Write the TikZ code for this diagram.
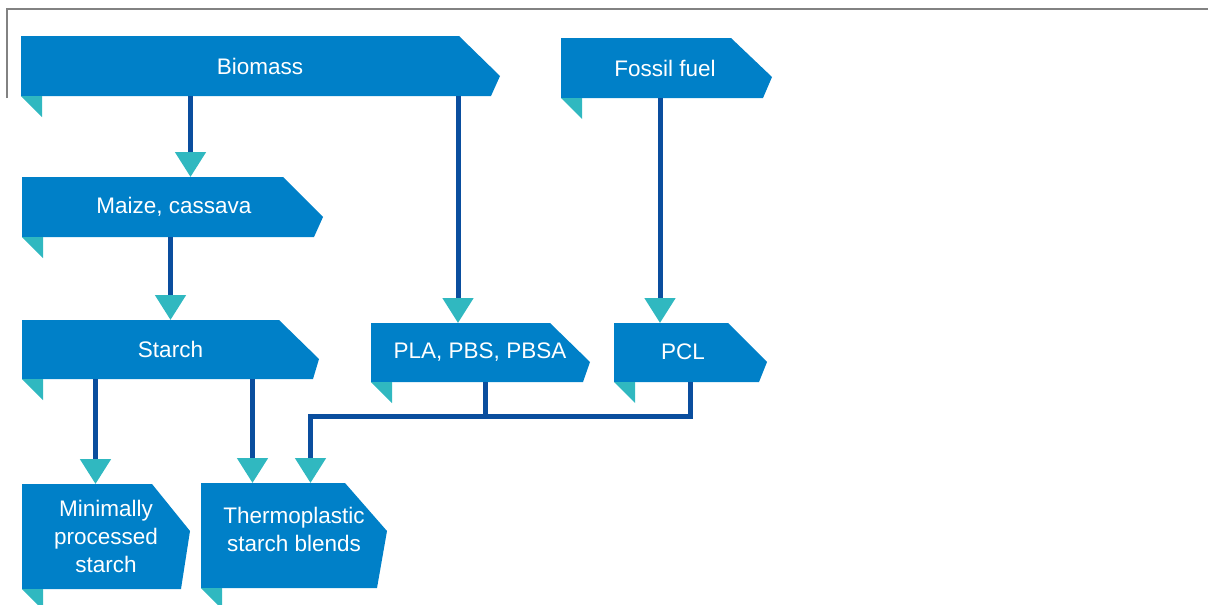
\documentclass[tikz,border=0pt]{standalone}
\usepackage{fontspec}
\setmainfont{Liberation Sans}
\usetikzlibrary{arrows.meta}
\definecolor{boxblue}{RGB}{0,128,200}
\definecolor{flagteal}{RGB}{48,184,192}
\definecolor{linkblue}{RGB}{10,78,158}
\definecolor{framegray}{RGB}{130,130,130}
\tikzset{
  boxfill/.style={fill=boxblue},
  flagfill/.style={fill=flagteal},
  anchorbox/.style={inner sep=0pt, outer sep=0pt, draw=none},
  lbl/.style={text=white, font=\fontsize{22.5}{28}\selectfont, align=center, inner sep=0pt},
  conn/.style={draw=linkblue, line width=5pt},
  connarrow/.style={conn, -{Triangle[width=30pt,length=25pt,color=flagteal,fill=flagteal]}},
}
% #1 name, #2 left, #3 top, #4 top-right x, #5 bottom, #6 point dx, #7 point dy, #8 bottom-right dx
\newcommand{\flagshape}[8]{%
  \fill[boxfill] (#2,#3) -- (#4,#3) -- ({#4+#6},{#3+#7}) -- ({#4+#8},#5) -- (#2,#5) -- cycle;
  \fill[flagfill] (#2,#5) -- ({#2+21},#5) -- ({#2+21},{#5+21}) -- cycle;
  \path (#2,#3) coordinate (#1-nw) (#4,#5) coordinate (#1-se);
  \node[anchorbox, fit-free] (#1) at ({(#2+#4)/2},{(#3+#5)/2}) {};
}
\tikzset{fit-free/.style={minimum width=0pt, minimum height=0pt}}
\begin{document}
\begin{tikzpicture}[x=1pt,y=-1pt]
\useasboundingbox (0,0) rectangle (1208,605);
% frame
\draw[framegray, line width=1.3pt] (7,98) coordinate (fa) -- (7,9) coordinate (fb) -- (1210,9) coordinate (fc);

% boxes
\flagshape{biomass}{21}{36}{459}{96}{41}{40}{32}
\flagshape{fossil}{561}{38}{731}{98}{41}{39}{32}
\flagshape{maize}{22}{177}{283}{237}{40}{40}{31}
\flagshape{starch}{22}{320}{279}{379}{40}{39}{34}
\flagshape{pla}{371}{323}{550}{382}{40}{39}{33}
\flagshape{pcl}{614}{323}{728}{382}{39}{39}{31}
\flagshape{minimal}{22}{484}{152}{589}{38}{47}{29}
\flagshape{thermo}{201}{483}{345}{588}{42}{48}{32}

% labels
\node[lbl] (tbiomass) at (260,66) {Biomass};
\node[lbl] (tfossil) at (665,68) {Fossil fuel};
\node[lbl] (tmaize) at (174,207) {Maize, cassava};
\node[lbl] (tstarch) at (170.5,349) {Starch};
\node[lbl] (tpla) at (480,352) {PLA, PBS, PBSA};
\node[lbl] (tpcl) at (683,352) {PCL};
\node[lbl] (tminimal) at (106,536) {Minimally\\processed\\starch};
\node[lbl] (tthermo) at (294,529) {Thermoplastic\\starch blends};

% connector columns
\coordinate (c1) at (190.5,0);
\coordinate (c2) at (458,0);
\coordinate (c3) at (660,0);
\coordinate (c4) at (170.5,0);
\coordinate (c5) at (95.5,0);
\coordinate (c6) at (252.5,0);
\coordinate (j1) at (485,416);
\coordinate (j2) at (690,416);
\coordinate (j3) at (310.5,416);

\draw[connarrow] (biomass-se -| c1) -- (maize-nw -| c1);
\draw[connarrow] (biomass-se -| c2) -- (pla-nw -| c2);
\draw[connarrow] (fossil-se -| c3) -- (pcl-nw -| c3);
\draw[connarrow] (maize-se -| c4) -- (starch-nw -| c4);
\draw[connarrow] (starch-se -| c5) -- (minimal-nw -| c5);
\draw[connarrow] (starch-se -| c6) -- (thermo-nw -| c6);
\draw[conn] (pla-se -| j1) -- (j1);
\draw[connarrow] (pcl-se -| j2) -- (j2) -- (j3) -- (thermo-nw -| j3);
\end{tikzpicture}
\end{document}
